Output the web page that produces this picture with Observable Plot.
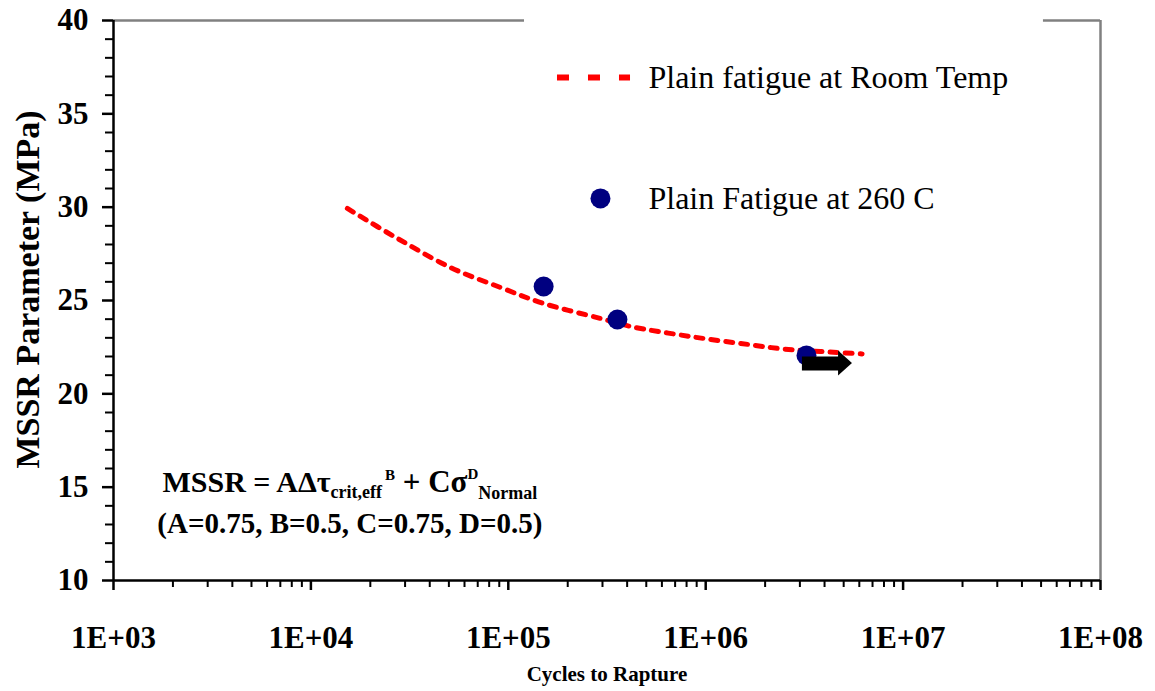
<!DOCTYPE html>
<html><head><meta charset="utf-8">
<script src="https://cdn.jsdelivr.net/npm/d3@7"></script>
<script src="https://cdn.jsdelivr.net/npm/@observablehq/plot@0.6"></script>
<style>
html,body{margin:0;padding:0;background:#fff;}
#chart svg{display:block;}
#chart svg, #chart svg text, #chart svg g {font-family: "Liberation Serif", "Times New Roman", serif !important;}
</style></head><body><div id="chart"></div>
<script>
// Plain fatigue at room temperature (fitted curve)
const curveCycles = [1.53e4, 2.75e4, 5.09e4, 9.12e4, 1.51e5, 2.93e5, 4.16e5, 8.37e5, 1.63e6, 2.48e6, 3.82e6, 6.2e6];
const curveMSSR   = [29.93, 28.32, 26.77, 25.70, 24.84, 24.04, 23.61, 23.07, 22.65, 22.40, 22.27, 22.14];
// Plain fatigue at 260 C (test points)
const pointCycles = [1.51e5, 3.57e5, 3.24e6];
const pointMSSR   = [25.75, 23.98, 22.06];
// run-out arrow
const runoutCycles = [3.09e6, 4.71e6, 5.54e6]; // start, head start, tip
const runoutMSSR = 21.63;
const runoutHeadHalf = 0.67;
// ticks
const xTicks = [1e3, 1e4, 1e5, 1e6, 1e7, 1e8];
const xMinor = d3.range(3, 8).flatMap(k => d3.range(2, 10).map(m => m * 10 ** k));
const yTicks = [10, 15, 20, 25, 30, 35, 40];
const yMinor = d3.range(10, 41).filter(v => v % 5 !== 0);
// texts
const legendLabels = ["Plain fatigue at Room Temp", "Plain Fatigue at 260 C"];
const xTitle = "Cycles to Rapture";
const yTitle = "MSSR Parameter (MPa)";
const formulaParams = "(A=0.75, B=0.5, C=0.75, D=0.5)";
// legend / annotation anchors (data space)
const legendLineX = [1.775e5, 4.16e5], legendLineY = 36.95;
const legendDotX = 2.93e5, legendDotY = 30.47;
const legendTextX = 5.13e5;
const formulaX = 1.585e4, formulaY1 = 14.71, formulaY2 = 12.52;
const topGaps = [[1e3, 1.208e5], [5.14e7, 1e8]];

const curve = curveCycles.map((c, i) => ({c, m: curveMSSR[i]}));
const points = pointCycles.map((c, i) => ({c, m: pointMSSR[i]}));
const head = [
  {c: runoutCycles[1], lo: runoutMSSR - runoutHeadHalf, hi: runoutMSSR + runoutHeadHalf},
  {c: runoutCycles[2], lo: runoutMSSR, hi: runoutMSSR}
];
const fmt = d => "1E+" + String(Math.round(Math.log10(d))).padStart(2, "0");

const plot = Plot.plot({
  width: 1155, height: 691,
  marginLeft: 113, marginRight: 55, marginTop: 20, marginBottom: 111,
  style: {color: "black", background: "white"},
  x: {type: "log", domain: [1e3, 1e8]},
  y: {domain: [10, 40]},
  marks: [
    Plot.ruleY(topGaps, {y: () => 40, x1: d => d[0], x2: d => d[1], stroke: "#808080", strokeWidth: 2.5}),
    Plot.ruleX([1e8], {stroke: "#808080", strokeWidth: 2.5}),
    Plot.axisX({ticks: xMinor, tickSize: 7, tickFormat: () => "", label: null, strokeWidth: 2}),
    Plot.axisX({ticks: xTicks, tickSize: 10, tickPadding: 35, tickFormat: fmt, fontSize: 31, fontWeight: "bold", label: null, strokeWidth: 2.5}),
    Plot.axisY({ticks: yMinor, tickSize: 8, tickFormat: () => "", label: null, strokeWidth: 2}),
    Plot.axisY({ticks: yTicks, tickSize: 11, tickPadding: 14, fontSize: 31, fontWeight: "bold", label: null, strokeWidth: 2.5}),
    Plot.ruleX([1e3], {stroke: "black", strokeWidth: 2.5}),
    Plot.ruleY([10], {stroke: "black", strokeWidth: 2.5}),
    Plot.line(curve, {x: "c", y: "m", stroke: "#ff0000", strokeWidth: 5, strokeDasharray: "7,8", curve: "catmull-rom"}),
    Plot.dot(points, {x: "c", y: "m", r: 10, fill: "#000080", stroke: "none"}),
    Plot.ruleY([runoutMSSR], {x1: runoutCycles[0], x2: runoutCycles[1] * 1.02, stroke: "black", strokeWidth: 14}),
    Plot.area(head, {x1: "c", y1: "lo", y2: "hi", fill: "black"}),
    // legend
    Plot.ruleY([legendLineY], {x1: legendLineX[0], x2: legendLineX[1], stroke: "#ff0000", strokeWidth: 6, strokeDasharray: "12,19"}),
    Plot.dot([legendDotX], {x: d => d, y: () => legendDotY, r: 10, fill: "#000080", stroke: "none"}),
    Plot.text([legendLabels[0]], {x: () => legendTextX, y: () => legendLineY, text: d => d, textAnchor: "start", fontSize: 32}),
    Plot.text([legendLabels[1]], {x: () => legendTextX, y: () => legendDotY, text: d => d, textAnchor: "start", fontSize: 32}),
    // axis titles
    Plot.text([xTitle], {frameAnchor: "bottom", dy: 100, text: d => d, fontSize: 21, fontWeight: "bold"}),
    Plot.text([yTitle], {frameAnchor: "left", textAnchor: "middle", dx: -85, dy: -11, rotate: -90, text: d => d, fontSize: 34, fontWeight: "bold"})
  ]
});

// Formula annotation with sub/superscripts
const sx = plot.scale("x"), sy = plot.scale("y");
const svg = d3.select(plot);
const g = svg.append("g").attr("font-weight", "bold").attr("fill", "black").attr("text-anchor", "middle");
const t1 = g.append("text").attr("x", sx.apply(formulaX)).attr("y", sy.apply(formulaY1)).attr("font-size", 30);
const parts = [
  ["MSSR = A\u0394\u03C4", 30, 0],
  ["crit,eff", 18, 6],
  ["\u2009B", 15, -18],
  [" + C\u03C3", 31, 12],
  ["D", 15, -13],
  ["Normal", 18, 20]
];
for (const [txt, fs, dy] of parts) t1.append("tspan").attr("font-size", fs).attr("dy", dy).text(txt);
g.append("text").attr("x", sx.apply(formulaX)).attr("y", sy.apply(formulaY2)).attr("font-size", 29).text(formulaParams);

document.getElementById("chart").append(plot);
</script>
</body></html>
